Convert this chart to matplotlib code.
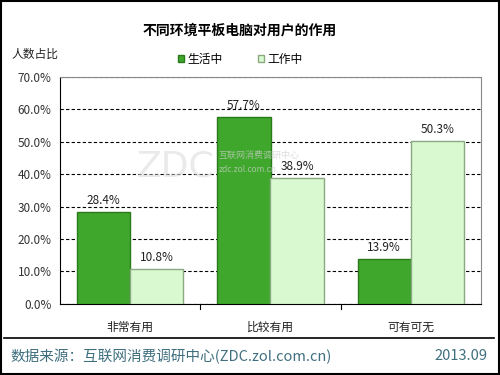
import matplotlib.pyplot as plt
import numpy as np
from matplotlib.patches import Rectangle

plt.rcParams['font.family'] = ['Noto Sans CJK SC', 'DejaVu Sans']

categories = ['非常有用', '比较有用', '可有可无']
life = [28.4, 57.7, 13.9]
work = [10.8, 38.9, 50.3]
series_names = ['生活中', '工作中']
yticks = [0, 10, 20, 30, 40, 50, 60, 70]

fig = plt.figure(figsize=(5, 3.75), dpi=100)
ax = fig.add_axes([0.12, 0.19, 0.842, 0.605])

x = np.arange(len(categories))
w = 0.38
b1 = ax.bar(x - w / 2, life, w, color='#3fa82c', edgecolor='#2a7a1c', linewidth=1.0, label=series_names[0], zorder=3)
b2 = ax.bar(x + w / 2, work, w, color='#d9f9d1', edgecolor='#8aa882', linewidth=1.0, label=series_names[1], zorder=3)

for rects, vals in ((b1, life), (b2, work)):
    for r, v in zip(rects, vals):
        ax.text(r.get_x() + r.get_width() / 2, v + 1.5, '%.1f%%' % v, ha='center', va='bottom',
                fontsize=8.5, color='#222222', zorder=4)

ax.set_xlim(-0.5, 2.5)
ax.set_ylim(0, 70)
ax.set_yticks(yticks)
ax.set_yticklabels(['%.1f%%' % t for t in yticks], fontsize=8.5, color='#333333')
ax.set_xticks(x)
ax.set_xticklabels(categories, fontsize=8.5, color='#222222')
ax.tick_params(axis='x', length=0, pad=12)
ax.tick_params(axis='y', length=0, pad=6)
for t in [0.5, 1.5]:
    ax.plot([t, t], [0, -1.5], color='black', lw=0.8, clip_on=False)
ax.yaxis.grid(True, linestyle=(0, (3, 2)), color='black', linewidth=0.8, zorder=0)
for s in ['top', 'right']:
    ax.spines[s].set_color('#888888')
ax.spines['left'].set_color('black')
ax.spines['bottom'].set_color('black')

# watermark
fig.text(0.35, 0.555, 'ZDC', fontsize=26, color='#dddddd', alpha=0.6, ha='center', va='center',
         family='DejaVu Sans', zorder=0)
fig.text(0.437, 0.585, '互联网消费调研中心', fontsize=6.5, color='#cfcfcf', alpha=0.7, va='center')
fig.text(0.437, 0.548, 'zdc.zol.com.cn', fontsize=6, color='#cfcfcf', alpha=0.7, va='center')

fig.text(0.48, 0.918, '不同环境平板电脑对用户的作用', fontsize=10, fontweight='bold', ha='center', va='center')
fig.text(0.07, 0.855, '人数占比', fontsize=8.5, ha='center', va='center', color='#222222')

leg = fig.legend(handles=[b1, b2], labels=series_names, loc='center', bbox_to_anchor=(0.48, 0.842),
                 ncol=2, frameon=False, fontsize=8.5, handlelength=0.5, handleheight=0.5,
                 columnspacing=3.0, handletextpad=0.3)

fig.add_artist(plt.Line2D([0.008, 0.988], [0.098, 0.098], color='black', lw=1.2))
fig.text(0.02, 0.05, '数据来源：互联网消费调研中心(ZDC.zol.com.cn)', fontsize=10.5, color='#3f6f7f', va='center')
fig.text(0.975, 0.05, '2013.09', fontsize=10.5, color='#3f6f7f', va='center', ha='right')

fig.add_artist(Rectangle((0.002, 0.003), 0.995, 0.994, transform=fig.transFigure, fill=False,
                         edgecolor='black', lw=1.5))

fig.savefig('out.png', dpi=100)
